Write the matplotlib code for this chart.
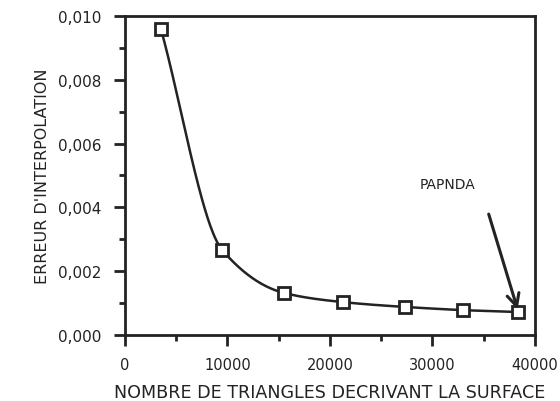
import numpy as np
import matplotlib
matplotlib.use("Agg")
import matplotlib.pyplot as plt
from matplotlib.ticker import FuncFormatter, MultipleLocator

# Data
n_triangles = [3500, 9500, 15500, 21300, 27300, 33000, 38400]
erreur = [0.0096, 0.00266, 0.00132, 0.00103, 0.00088, 0.00078, 0.00072]
x_ticks = [0, 10000, 20000, 30000, 40000]
y_ticks = [0.000, 0.002, 0.004, 0.006, 0.008, 0.010]
x_label = "NOMBRE DE TRIANGLES DECRIVANT LA SURFACE"
y_label = "ERREUR D'INTERPOLATION"
annot_text = "PAPNDA"
annot_text_pos = (31500, 0.00473)
arrow_start = (35500, 0.00379)

ink = "#232323"
plt.rcParams['font.family'] = ['DejaVu Sans']

def pchip(x, y, xs):
    x = np.asarray(x, float); y = np.asarray(y, float)
    h = np.diff(x); d = np.diff(y) / h
    m = np.zeros_like(y)
    for k in range(1, len(x) - 1):
        if d[k-1] * d[k] > 0:
            w1 = 2*h[k] + h[k-1]; w2 = h[k] + 2*h[k-1]
            m[k] = (w1 + w2) / (w1/d[k-1] + w2/d[k])
    m[0] = d[0]; m[-1] = d[-1]
    out = np.empty_like(xs)
    idx = np.clip(np.searchsorted(x, xs) - 1, 0, len(x) - 2)
    for j, (xv, i) in enumerate(zip(xs, idx)):
        t = (xv - x[i]) / h[i]
        h00 = 2*t**3 - 3*t**2 + 1; h10 = t**3 - 2*t**2 + t
        h01 = -2*t**3 + 3*t**2; h11 = t**3 - t**2
        out[j] = h00*y[i] + h10*h[i]*m[i] + h01*y[i+1] + h11*h[i]*m[i+1]
    return out

fig = plt.figure(figsize=(5.6, 4.02), dpi=100)
ax = fig.add_axes([0.2232, 0.1642, 0.7318, 0.7935])

xs = np.linspace(n_triangles[0], n_triangles[-1], 400)
ax.plot(xs, pchip(n_triangles, erreur, xs), color=ink, lw=1.8, zorder=2)
ax.plot(n_triangles, erreur, ls='none', marker='s', ms=8, mfc='white',
        mec=ink, mew=2.0, zorder=3)

ax.set_xlim(0, 40000)
ax.set_ylim(0, 0.010)
ax.set_xticks(x_ticks)
ax.set_yticks(y_ticks)
ax.xaxis.set_minor_locator(MultipleLocator(5000))
ax.yaxis.set_minor_locator(MultipleLocator(0.001))
ax.xaxis.set_major_formatter(FuncFormatter(lambda v, p: f"{int(v)}"))
ax.yaxis.set_major_formatter(FuncFormatter(lambda v, p: f"{v:.3f}".replace('.', ',')))

for s in ax.spines.values():
    s.set_linewidth(2.0)
    s.set_color(ink)

ax.tick_params(axis='both', which='major', direction='out', length=8, width=2,
               color=ink, labelcolor=ink, labelsize=10.5, pad=8)
ax.tick_params(axis='y', which='major', labelsize=11, pad=9)
ax.tick_params(axis='both', which='minor', direction='out', length=4.5, width=2,
               color=ink)
ax.tick_params(top=False, right=False, which='both')

ax.set_xlabel(x_label, fontsize=12.6, color=ink, labelpad=8)
ax.set_ylabel(y_label, fontsize=11.5, color=ink, labelpad=6)

ax.text(*annot_text_pos, annot_text, fontsize=10, color=ink, ha='center', va='center')
ax.annotate("", xy=(n_triangles[-1], erreur[-1]), xytext=arrow_start,
            textcoords='data',
            arrowprops=dict(arrowstyle='->', color=ink, lw=2.2,
                            shrinkA=0, shrinkB=2, mutation_scale=22),
            annotation_clip=False)

fig.savefig("out.png", dpi=100, facecolor='white')
